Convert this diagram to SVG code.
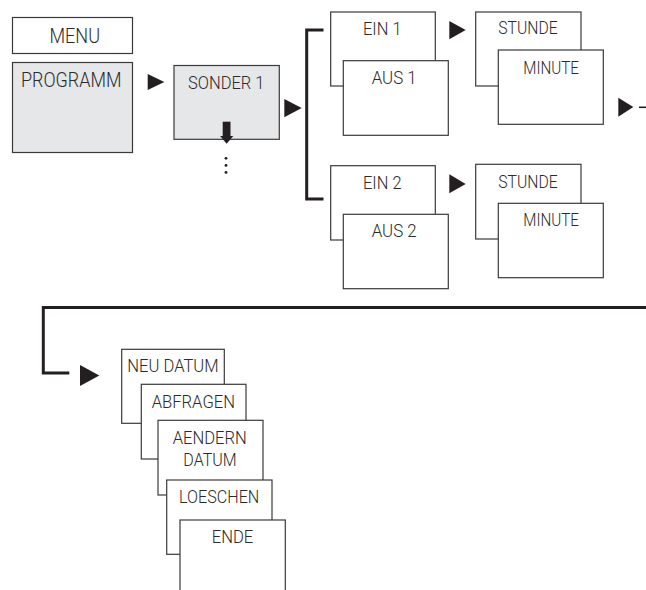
<svg xmlns="http://www.w3.org/2000/svg" width="646" height="590" viewBox="0 0 646 590">
<style>
.box{fill:#ffffff;stroke:#3a3a3a;stroke-width:1.2}
.grey{fill:#e6e7e8}
.t{font-family:Roboto,"Liberation Sans",Arial,sans-serif;font-weight:300;font-size:17.5px;fill:#2b2b2b}
.big{font-size:20px}
.mid{font-size:19px}
.con{fill:none;stroke:#231f20;stroke-width:3}
.ah{fill:#231f20}
</style>
<rect width="646" height="590" fill="#ffffff"/>
<g id="connectors">
<polygon class="ah" points="147.7,74 164.3,82 147.7,90"/>
<polygon class="ah" points="284.3,99 301.7,108 284.3,117.3"/>
<path class="con" d="M323.5,30 H306.7 V199 H323.5"/>
<polygon class="ah" points="449.3,21 465.7,30 449.3,39.3"/>
<polygon class="ah" points="449.3,174.3 465.7,184 449.3,193.3"/>
<polygon class="ah" points="618.3,97.7 633.3,107 618.3,116.7"/>
<line x1="639" y1="107.3" x2="646" y2="107.3" stroke="#231f20" stroke-width="1.6"/>
<path class="con" d="M646,307.5 H43.3 V373 H69.3"/>
<polygon class="ah" points="80,365 99.3,375.5 80,386"/>
</g>
<g id="menu">
<rect class="box" x="12.5" y="17.5" width="120" height="36"/>
<text class="t big" x="49.5" y="43.3" textLength="50.5" lengthAdjust="spacingAndGlyphs">MENU</text>
</g>
<g id="programm">
<rect class="box grey" x="12.5" y="62.5" width="120" height="90"/>
<text class="t big" x="21" y="87.3" textLength="100.5" lengthAdjust="spacingAndGlyphs">PROGRAMM</text>
</g>
<g id="sonder1">
<rect class="box grey" x="174" y="65.5" width="105.3" height="73.8"/>
<text class="t mid" x="188" y="88.5" textLength="76.5" lengthAdjust="spacingAndGlyphs">SONDER 1</text>
<rect x="222.7" y="121.7" width="7.8" height="15.5" fill="#231f20"/>
<polygon class="ah" points="220.2,136 233.3,136 226.6,143.8"/>
<circle cx="226" cy="158.3" r="1.4" fill="#231f20"/>
<circle cx="226" cy="165.4" r="1.4" fill="#231f20"/>
<circle cx="226" cy="172.4" r="1.4" fill="#231f20"/>
</g>
<g id="ein1">
<rect class="box" x="330.7" y="12" width="104.6" height="74"/>
<text class="t" x="363" y="35" textLength="38.5" lengthAdjust="spacingAndGlyphs">EIN 1</text>
</g>
<g id="aus1">
<rect class="box" x="343.3" y="60.7" width="105" height="74.6"/>
<text class="t" x="371.7" y="84" textLength="45" lengthAdjust="spacingAndGlyphs">AUS 1</text>
</g>
<g id="stunde1">
<rect class="box" x="475.7" y="12" width="105.3" height="74"/>
<text class="t" x="498.3" y="33.5" textLength="59.4" lengthAdjust="spacingAndGlyphs">STUNDE</text>
</g>
<g id="minute1">
<rect class="box" x="498.3" y="50" width="105" height="74.3"/>
<text class="t" x="523.3" y="73.5" textLength="55.7" lengthAdjust="spacingAndGlyphs">MINUTE</text>
</g>
<g id="ein2">
<rect class="box" x="330.7" y="165.7" width="104.6" height="74.3"/>
<text class="t" x="363" y="188.5" textLength="38.5" lengthAdjust="spacingAndGlyphs">EIN 2</text>
</g>
<g id="aus2">
<rect class="box" x="343.3" y="214.3" width="105" height="74.4"/>
<text class="t" x="371.7" y="237" textLength="45" lengthAdjust="spacingAndGlyphs">AUS 2</text>
</g>
<g id="stunde2">
<rect class="box" x="475.7" y="164.3" width="105.3" height="74.7"/>
<text class="t" x="498.3" y="188.3" textLength="59.4" lengthAdjust="spacingAndGlyphs">STUNDE</text>
</g>
<g id="minute2">
<rect class="box" x="498.3" y="203.3" width="105" height="74.4"/>
<text class="t" x="523.3" y="225.5" textLength="55.7" lengthAdjust="spacingAndGlyphs">MINUTE</text>
</g>
<g id="neudatum">
<rect class="box" x="121.7" y="349.3" width="102.6" height="74"/>
<text class="t" x="127.3" y="372.3" textLength="91.3" lengthAdjust="spacingAndGlyphs">NEU DATUM</text>
</g>
<g id="abfragen">
<rect class="box" x="141.3" y="384.3" width="104.7" height="74.7"/>
<text class="t" x="151.7" y="407.7" textLength="83.3" lengthAdjust="spacingAndGlyphs">ABFRAGEN</text>
</g>
<g id="aenderndatum">
<rect class="box" x="158" y="420.3" width="105" height="74.7"/>
<text class="t" x="172.7" y="444" textLength="74" lengthAdjust="spacingAndGlyphs">AENDERN</text>
<text class="t" x="183.3" y="465.7" textLength="53.3" lengthAdjust="spacingAndGlyphs">DATUM</text>
</g>
<g id="loeschen">
<rect class="box" x="166.7" y="480" width="105.3" height="74.3"/>
<text class="t" x="179" y="503.3" textLength="80.3" lengthAdjust="spacingAndGlyphs">LOESCHEN</text>
</g>
<g id="ende">
<rect class="box" x="180" y="520" width="105.3" height="80"/>
<text class="t" x="211.7" y="542.7" textLength="41.6" lengthAdjust="spacingAndGlyphs">ENDE</text>
</g>
</svg>
